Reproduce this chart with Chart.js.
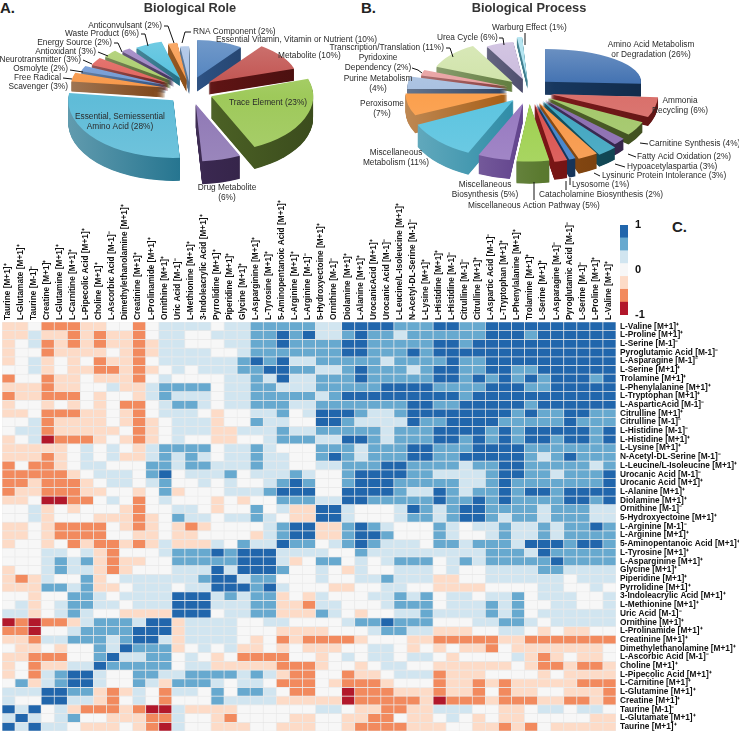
<!DOCTYPE html>
<html><head><meta charset="utf-8">
<style>
html,body{margin:0;padding:0;background:#fff;width:739px;height:733px;overflow:hidden}
canvas{position:absolute}
.tag{position:absolute;font:bold 15px "Liberation Sans",Arial,sans-serif;color:#222}
</style>
<script src="https://cdn.jsdelivr.net/npm/chart.js@4/dist/chart.umd.js"></script>
</head><body>
<div class="tag" style="left:0;top:-1px">A.</div>
<div class="tag" style="left:361px;top:-1px">B.</div>
<div class="tag" style="left:672px;top:218px">C.</div>
<canvas id="pieA" width="380" height="217" style="left:0;top:-2px"></canvas>
<canvas id="pieB" width="420" height="217" style="left:319px;top:-2px"></canvas>
<canvas id="heat" width="737" height="535" style="left:2px;top:198px"></canvas>
<canvas id="bar" width="50" height="110" style="left:620px;top:215px"></canvas>
<script>
// ---------- Pie A data ----------
const roleNames = ['Essential Vitamin, Vitamin or Nutrient','Metabolite','Trace Element','Drug Metabolite','Essential, Semiessential Amino Acid','Free Radical Scavenger','Osmolyte','Neurotransmitter','Antioxidant','Energy Source','Waste Product','Anticonvulsant','RNA Component'];
const roleValues = [10,10,23,6,28,3,2,3,3,2,6,2,2];
// ---------- Pie B data ----------
const processNames = ['Amino Acid Metabolism or Degradation','Ammonia Recycling','Carnitine Synthesis','Fatty Acid Oxidation','Hypoacetylaspartia','Lysinuric Protein Intolerance','Lysosome','Catacholamine Biosynthesis','Miscellaneous Action Pathway','Miscellaneous Biosynthesis','Miscellaneous Metabolism','Peroxisome','Purine Metabolism','Pyridoxine Dependency','Transcription/Translation','Urea Cycle','Warburg Effect'];
const processValues = [26,6,4,2,3,3,1,2,5,5,11,7,4,2,11,6,1];
// ---------- Heatmap labels ----------
const P='[M+1]\u207A', N='[M-1]\u207B';
const rowLabels = ['L-Valine '+P,'L-Proline '+P,'L-Serine '+N,'Pyroglutamic Acid '+N,'L-Asparagine '+N,'L-Serine '+P,'Trolamine '+P,'L-Phenylalanine '+P,'L-Tryptophan '+P,'L-AsparticAcid '+N,'Citrulline '+P,'Citrulline '+N,'L-Histidine '+N,'L-Histidine '+P,'L-Lysine '+P,'N-Acetyl-DL-Serine '+N,'L-Leucine/L-Isoleucine '+P,'Urocanic Acid '+N,'Urocanic Acid '+P,'L-Alanine '+P,'Diolamine '+P,'Ornithine '+N,'5-Hydroxyectoine '+P,'L-Arginine '+N,'L-Arginine '+P,'5-Aminopentanoic Acid '+P,'L-Tyrosine '+P,'L-Asparginine '+P,'Glycine '+P,'Piperidine '+P,'Pyrrolidine '+P,'3-Indoleacrylic Acid '+P,'L-Methionine '+P,'Uric Acid '+N,'Ornithine '+P,'L-Prolinamide '+P,'Creatinine '+P,'Dimethylethanolamine '+P,'L-Ascorbic Acid '+N,'Choline '+P,'L-Pipecolic Acid '+P,'L-Carnitine '+P,'L-Glutamine '+P,'Creatine '+P,'Taurine '+N,'L-Glutamate '+P,'Taurine '+P];
const colLabels = ['Taurine '+P,'L-Glutamate '+P,'Taurine '+N,'Creatine '+P,'L-Glutamine '+P,'L-Carnitine '+P,'L-Pipecolic Acid '+P,'Choline '+P,'L-Ascorbic Acid '+N,'Dimethylethanolamine '+P,'Creatinine '+P,'L-Prolinamide '+P,'Ornithine '+P,'Uric Acid '+N,'L-Methionine '+P,'3-Indoleacrylic Acid '+P,'Pyrrolidine '+P,'Piperidine '+P,'Glycine '+P,'L-Asparginine '+P,'L-Tyrosine '+P,'5-Aminopentanoic Acid '+P,'L-Arginine '+P,'L-Arginine '+N,'5-Hydroxyectoine '+P,'Ornithine '+N,'Diolamine '+P,'L-Alanine '+P,'UrocanicAcid '+P,'Urocanic Acid '+N,'L-Leucine/L-Isoleucine '+P,'N-Acetyl-DL-Serine '+N,'L-Lysine '+P,'L-Histidine '+P,'L-Histidine '+N,'Citrulline '+N,'Citrulline '+P,'L-Aspartic Acid '+N,'L-Tryptophan '+P,'L-Phenylalanine '+P,'Trolamine '+P,'L-Serine '+P,'L-Asparagine '+N,'Pyroglutamic Acid '+N,'L-Serine '+N,'L-Proline '+P,'L-Valine '+P];
// ---------- Heatmap cells: binned correlation, -3 (r=-1) .. 3 (r=1) ----------
const row00=[-1,-1,0,-2,-2,-2,-1,-1,0,0,-2,0,1,1,1,1,0,1,1,2,2,2,2,2,1,1,3,3,3,3,2,2,2,3,3,2,2,3,3,3,3,3,3,3,3,3,3];
const row01=[-1,-1,1,-1,-1,-2,-1,-2,-1,-1,-2,0,1,1,0,0,1,1,1,2,2,3,2,3,1,1,2,3,2,2,1,2,2,2,2,2,2,3,3,3,2,3,3,3,3,3,3];
const row02=[-1,0,1,-2,-1,-2,-1,-2,-1,-1,-2,-1,1,1,0,0,0,1,1,2,2,3,2,2,2,2,3,3,2,2,2,2,2,3,3,2,3,3,3,3,3,3,3,3,3,3,3];
const row03=[-1,0,0,-2,-1,-1,-1,-1,0,-1,-2,-1,1,1,1,1,0,0,1,2,2,2,2,2,2,2,3,3,2,2,2,3,2,3,3,3,3,3,3,3,3,3,3,3,3,3,3];
const row04=[-1,0,1,-1,0,-1,0,-2,-1,-1,-2,0,1,1,1,1,1,1,2,3,2,3,1,1,2,2,2,2,2,1,2,2,2,2,3,2,2,3,3,3,3,3,3,3,3,3,3];
const row05=[0,0,1,-1,0,-1,-1,-2,-2,-1,-2,-1,0,1,0,1,1,1,2,2,3,3,2,2,1,1,2,3,2,2,2,1,2,3,3,2,2,3,3,2,2,3,3,3,3,3,3];
const row06=[-2,0,0,-2,-1,-1,0,-1,-1,-1,-2,0,1,0,0,0,0,1,1,2,1,3,1,1,2,2,2,3,2,2,2,2,2,3,3,2,3,2,3,2,3,2,3,3,3,2,3];
const row07=[-1,-1,-1,-2,-1,-1,0,0,1,-1,-1,1,2,2,2,2,0,1,1,2,2,1,1,1,2,2,2,2,2,3,3,3,3,2,2,2,2,3,3,3,2,2,3,3,3,3,3];
const row08=[-2,-1,-1,-2,-2,-2,0,-1,0,0,-1,1,2,1,1,1,0,1,1,2,2,2,2,2,1,2,3,3,3,3,3,3,3,3,3,2,3,3,3,3,3,3,3,3,3,3,3];
const row09=[-1,0,0,-1,0,-1,0,-1,0,-2,-2,0,1,2,2,1,0,1,1,2,2,2,1,1,2,2,2,2,2,2,2,3,3,2,2,3,3,3,3,3,2,3,3,3,3,3,3];
const row10=[-1,-1,0,-2,-2,-2,-1,-1,0,-1,-2,0,1,1,1,0,-1,0,0,1,1,2,0,1,3,3,3,2,1,1,2,3,3,3,3,3,3,3,3,2,3,2,2,3,3,2,2];
const row11=[0,0,1,-2,-1,-1,-1,-1,0,-1,-2,-1,0,1,1,1,-1,0,0,2,1,1,0,0,3,3,2,1,1,1,1,3,2,2,3,3,3,3,2,2,2,2,2,3,2,2,2];
const row12=[0,1,1,-2,-1,-1,-1,-1,-1,0,-2,-1,0,1,1,1,-1,-1,1,1,1,2,1,1,2,2,2,2,2,1,2,2,2,3,3,3,3,2,3,2,3,3,3,3,3,2,3];
const row13=[-1,0,1,-3,-2,-2,-2,-1,0,-1,-2,-1,0,1,0,0,-1,-1,0,0,1,2,2,2,1,1,3,3,2,1,2,2,2,3,3,2,3,2,3,2,3,3,2,3,3,2,3];
const row14=[-1,-1,-1,-1,-1,0,1,0,1,0,-1,1,2,2,2,2,0,1,1,2,1,0,0,0,2,2,2,1,2,2,2,3,3,2,2,2,3,3,3,3,2,2,2,2,2,2,2];
const row15=[-1,-1,-1,-2,-1,0,1,0,1,-1,-1,1,2,1,2,1,0,1,1,2,1,1,0,0,2,3,2,1,2,2,2,3,3,2,2,3,3,3,3,3,2,1,2,3,2,2,2];
const row16=[-2,0,-2,-2,-1,0,1,1,0,0,0,2,2,1,2,2,1,1,1,2,1,1,0,0,1,1,2,2,2,3,3,2,2,2,2,1,2,2,3,3,2,2,2,2,2,1,2];
const row17=[-2,-2,-2,-2,-2,-1,0,1,1,1,0,2,3,0,1,1,1,2,0,1,1,1,2,1,0,0,2,3,3,3,3,2,2,1,1,1,1,2,3,3,2,2,1,2,2,2,3];
const row18=[-2,-2,-1,-2,-2,-2,-1,0,1,1,0,1,2,0,0,1,0,1,0,0,1,2,3,2,0,0,2,3,3,3,2,2,2,2,2,1,1,2,3,2,2,2,2,2,2,2,3];
const row19=[-2,-1,-1,-2,-2,-2,-1,-1,0,0,-1,0,2,-1,0,0,0,1,1,1,2,3,3,3,0,0,3,3,3,3,2,1,1,3,2,1,2,2,3,2,3,3,2,3,3,3,3];
const row20=[-1,-1,0,-3,-3,-2,-2,0,1,0,-2,0,1,0,0,0,-1,0,-1,0,0,2,2,2,1,1,3,3,2,2,2,2,2,3,2,2,3,2,3,2,2,2,2,3,3,2,3];
const row21=[0,0,1,-1,0,-1,0,0,0,-1,-2,0,0,1,1,0,-1,0,0,2,0,1,-1,-1,3,3,1,0,0,0,1,3,2,1,2,3,3,2,2,2,2,1,2,2,2,1,1];
const row22=[0,0,1,-1,0,0,0,-1,-1,-1,-2,-1,0,2,1,1,0,1,1,2,1,0,-1,-1,3,3,1,0,0,0,1,2,2,1,2,3,3,2,1,2,2,1,2,2,2,1,1];
const row23=[-1,-1,0,-1,-2,-2,-2,-2,0,-1,-2,-1,0,-1,-2,-1,0,0,0,0,1,2,3,3,-1,-1,2,3,2,1,0,0,0,2,1,0,1,1,2,1,1,2,1,2,2,3,2];
const row24=[-1,-1,0,-1,-2,-2,-2,-2,0,0,-1,-1,0,-1,-1,0,0,0,0,-1,1,2,3,3,-1,-1,2,3,3,2,0,0,0,2,1,0,0,1,2,1,1,2,1,2,2,2,2];
const row25=[-1,0,0,-1,0,-2,-1,-2,-2,-1,-2,-1,1,-1,-1,-1,1,0,2,1,1,3,2,2,0,1,2,3,2,1,1,1,0,2,2,1,2,2,2,1,3,3,3,2,3,3,2];
const row26=[0,0,0,1,1,0,1,-1,-2,0,0,0,1,2,2,2,3,2,3,3,3,1,1,1,1,0,0,2,1,1,1,1,1,1,1,1,1,2,2,2,1,3,2,2,2,2,2];
const row27=[0,0,0,1,2,1,2,-1,-2,-1,-1,0,0,2,2,2,2,2,3,3,3,1,-1,0,2,2,0,1,0,1,2,2,2,0,1,2,1,2,2,2,2,2,3,2,2,2,2];
const row28=[-1,0,0,1,2,1,1,-1,-2,-1,0,0,0,1,1,1,3,1,3,3,3,2,0,0,1,0,-1,1,0,0,1,1,1,0,1,0,0,1,1,1,1,2,2,1,1,1,1];
const row29=[-1,-2,-1,1,0,0,2,-1,0,1,1,1,1,1,1,2,3,3,1,2,2,0,0,0,1,0,0,1,1,2,1,1,1,-1,-1,0,0,1,1,1,1,1,1,0,1,1,1];
const row30=[-1,-1,-1,2,2,1,2,-1,-1,0,1,1,1,0,1,1,3,3,3,2,3,1,0,0,0,-1,-1,0,0,1,1,0,0,-1,-1,-1,-1,0,0,0,0,1,1,0,0,1,0];
const row31=[0,0,-1,0,0,2,2,1,0,1,1,1,1,3,3,3,1,2,1,2,2,-1,0,-1,1,0,0,0,1,1,2,1,2,0,1,1,0,1,1,2,0,1,1,1,0,0,1];
const row32=[0,1,-1,0,1,2,2,1,1,0,1,1,1,3,3,3,1,1,1,2,2,-1,-1,-2,1,1,0,0,0,1,2,2,2,0,1,1,1,2,1,2,0,0,1,1,0,0,1];
const row33=[1,1,-1,0,1,2,1,0,0,-1,-1,-1,-1,3,3,3,0,1,1,2,2,-1,-1,-1,2,1,0,-1,0,0,1,1,2,1,1,1,1,2,1,2,0,1,1,1,1,1,1];
const row34=[-3,-2,-3,-2,-2,-1,1,2,2,2,1,3,3,-1,1,1,1,1,0,0,1,1,0,0,0,0,1,2,2,3,2,2,2,0,0,0,1,1,2,2,1,0,1,1,1,1,1];
const row35=[-2,-2,-3,0,0,1,2,2,2,2,3,3,3,-1,1,1,1,1,0,0,0,-1,-1,-1,-1,0,0,0,1,2,2,1,1,-1,-1,-1,0,0,1,1,0,-1,0,-1,-1,0,0];
const row36=[-1,-1,-2,1,1,2,2,2,1,2,3,3,1,-1,1,1,1,1,0,-1,0,-2,-1,-2,-2,-2,-2,-1,0,0,0,-1,-1,-2,-2,-2,-2,-2,-1,-1,-2,-2,-2,-2,-2,-2,-2];
const row37=[0,-1,-1,0,-1,0,0,2,1,3,2,2,2,-1,0,1,0,1,-1,-1,0,-1,0,-1,-1,-1,0,0,1,1,0,-1,0,-1,0,-1,-1,-2,0,-1,-1,-1,-1,-1,-1,-1,0];
const row38=[-1,-1,-2,-2,-2,0,0,2,3,1,1,2,2,0,1,0,-1,0,-2,-2,-2,-2,0,0,-1,0,1,0,1,1,0,1,1,0,-1,0,0,0,0,1,-1,-2,-1,0,-1,-1,0];
const row39=[-1,0,-2,-1,-1,1,1,3,2,2,2,2,2,0,1,1,-1,-1,-1,-1,-1,-2,-2,-2,-1,0,0,-1,0,1,1,0,0,-1,-1,-1,-1,-1,-1,0,-1,-2,-2,-1,-2,-2,-1];
const row40=[-1,0,-2,1,2,3,3,1,0,0,2,2,1,1,2,2,2,2,1,2,1,-1,-2,-2,0,0,-2,-1,-1,0,1,1,1,-2,-1,-1,-1,0,0,0,0,-1,0,-1,-1,-1,-1];
const row41=[0,2,-1,1,2,3,3,1,0,0,2,1,-1,2,2,2,1,0,1,1,0,-2,-2,-2,0,-1,-2,-2,-2,-1,0,0,0,-2,-1,-1,-2,-1,-2,-1,-1,-1,-1,-1,-2,-2,-2];
const row42=[1,1,1,3,3,2,2,-1,-2,-1,1,0,-2,1,1,0,2,0,2,2,1,0,-2,-2,0,0,-3,-2,-2,-2,-1,-1,-1,-2,-1,-1,-2,0,-2,-1,-1,0,0,-1,-1,-1,-2];
const row43=[1,0,0,3,3,1,1,-1,-2,0,1,0,-2,0,0,0,2,1,1,1,1,-1,-1,-1,-1,-1,-3,-2,-2,-2,-2,-2,-1,-3,-2,-2,-2,-1,-2,-2,-2,-1,-1,-2,-2,-1,-2];
const row44=[3,1,3,0,1,-1,-2,-2,-2,-1,-2,-3,-3,1,-1,-1,-1,-1,0,0,0,0,0,0,1,1,0,-1,-1,-2,-2,-1,-1,1,1,1,0,0,-1,-1,0,1,1,0,1,1,0];
const row45=[1,3,1,0,1,2,0,0,-1,-1,-1,-2,-2,1,0,0,-1,-2,0,0,0,0,-1,-1,0,0,-1,-1,-2,-2,0,-1,-1,0,1,0,-1,0,-1,-1,0,0,0,0,0,-1,-1];
const row46=[3,1,3,1,1,0,-1,-1,-1,0,-1,-2,-3,1,0,0,-1,-1,-1,0,0,-1,-1,-1,0,0,-1,-2,-2,-2,-2,-1,-1,-1,0,0,-1,-1,-2,-1,-2,0,-1,-1,-1,-1,-1];
const cellBins=[row00,row01,row02,row03,row04,row05,row06,row07,row08,row09,row10,row11,row12,row13,row14,row15,row16,row17,row18,row19,row20,row21,row22,row23,row24,row25,row26,row27,row28,row29,row30,row31,row32,row33,row34,row35,row36,row37,row38,row39,row40,row41,row42,row43,row44,row45,row46];
const binColors={'-3':'#b2182b','-2':'#f28a5e','-1':'#fddbc7','0':'#f7f7f7','1':'#d1e5f0','2':'#67a9cf','3':'#2166ac'};
const scaleBins=[-3,-2,-1,0,1,2,3];
const scaleTicks=[-1,0,1];

// ---------- 3D look of the pies (styles) ----------
const styleA={
 top:['#4f81bd','#c0504d','#9ec95a','#8f78b5','#5fbcd8','#f79646','#6f98d4','#e0605a','#a8cc68','#9a7fc0','#4fbfdc','#f79646','#a6c0e4'],
 side:['#2b4f80','#5e1414','#4a5f24','#3a2850','#24748f','#7a3f10','#2b4f80','#6f1a1a','#4f6228','#3f2d58','#1f6a80','#8a4a12','#54708f'],
 radius:[75,90,102,104,105,95,90,85,82,76,75,75,72],
 squash:[.5,.5,.55,.55,.55,.5,.5,.5,.5,.5,.5,.5,.5],
 depth:[14,12,22,23,23,10,8,8,8,8,8,12,12],
 explode:[23,23,23,23,23,25,25,25,25,25,23,18,14]
};
const styleB={
 top:['#3f6fb0','#d9706b','#a3c76a','#8a6cb0','#3fa5c0','#f79646','#3f7fc8','#d9504d','#9ed04f','#9678c0','#5cc4e0','#fba04e','#a8c0e0','#e8a0a0','#cfe3a8','#c9b9dc','#a6e0ee'],
 side:['#17375e','#7a1a1a','#4f6228','#3f2d58','#14505f','#8a4a12','#17375e','#7a1515','#5b7a30','#5e3f8a','#2a8aa5','#a55a10','#2a3f5f','#8a3a3a','#5e7a3a','#4a4a6a','#3a7a8a'],
 radius:[96,108,105,102,106,108,106,106,105,104,106,102,100,90,82,75,85],
 squash:[.34,.5,.55,.6,.6,.56,.56,.56,.55,.55,.55,.5,.5,.5,.5,.5,.52],
 depth:[13,9,10,11,12,15,18,18,22,19,22,18,5,4,10,14,8],
 explode:[22,22,22,22,22,22,22,22,22,22,22,22,22,22,22,20,16]
};
const LABEL_FONT='8.3px "Liberation Sans",Arial,sans-serif';
// text placement: lines, page x, page y, alignment
const placeA=[
 [['Anticonvulsant (2%)'],162,26,'right'],[['Waste Product (6%)'],139,34,'right'],[['Energy Source (2%)'],112,43,'right'],
 [['Antioxidant (3%)'],96,52,'right'],[['Neurotransmitter (3%)'],81,60,'right'],[['Osmolyte (2%)'],68,69,'right'],
 [['Free Radical'],61,78,'right'],[['Scavenger (3%)'],68,87,'right'],[['RNA Component (2%)'],193,32,'left'],
 [['Essential Vitamin, Vitamin or Nutrient (10%)'],216,40,'left'],[['Metabolite (10%)'],278,56,'left'],
 [['Trace Element (23%)'],268,103,'center'],[['Essential, Semiessential','Amino Acid (28%)'],120,117,'center'],
 [['Drug Metabolite','(6%)'],227,188,'center']];
const leadA=[[[164,26],[168,26],[174,43]],[[141,34],[145,34],[148,46]],[[114,43],[118,43],[122,52]],[[98,52],[108,56]],[[83,60],[92,64]],[[70,70],[83,72]],[[63,78],[72,79]],[[191,32],[185,32],[182,43]]];
const placeB=[
 [['Warburg Effect (1%)'],492,28,'left'],[['Urea Cycle (6%)'],437,38,'left'],[['Transcription/Translation (11%)'],444,48,'right'],
 [['Pyridoxine','Dependency (2%)'],378,58,'center'],[['Purine Metabolism','(4%)'],378,79,'center'],[['Peroxisome','(7%)'],382,104,'center'],
 [['Miscellaneous','Metabolism (11%)'],396,153,'center'],[['Miscellaneous','Biosynthesis (5%)'],485,185,'center'],
 [['Miscellaneous Action Pathway (5%)'],468,206,'left'],[['Catacholamine Biosynthesis (2%)'],539,195,'left'],[['Lysosome (1%)'],572,185,'left'],
 [['Lysinuric Protein Intolerance (3%)'],602,176,'left'],[['Hypoacetylaspartia (3%)'],627,167,'left'],[['Fatty Acid Oxidation (2%)'],637,157,'left'],
 [['Carnitine Synthesis (4%)'],649,144,'left'],[['Ammonia','Recycling (6%)'],680,101,'center'],[['Amino Acid Metabolism','or Degradation (26%)'],651,45,'center']];
const leadB=[[[525,33],[525,45]],[[499,38],[503,38],[504,45]],[[446,48],[450,48],[453,57]],[[412,68],[418,70],[422,73]],[[534,182],[534,200]],[[566,181],[566,190]],[[570,185],[570,178]],[[600,176],[594,173]],[[625,167],[615,164]],[[636,157],[628,154]],[[648,144],[640,143]]];

function mix(hex,target,f){
 const n=parseInt(hex.slice(1),16),c=[n>>16&255,n>>8&255,n&255];
 return 'rgb('+c.map(v=>Math.round(v+(target-v)*f)).join(',')+')';
}
function topFills(canvas,colors){
 const ctx=canvas.getContext('2d');
 return colors.map(col=>{
  const g=ctx.createLinearGradient(0,-10,0,210);
  g.addColorStop(0,mix(col,255,.22));g.addColorStop(.5,col);g.addColorStop(1,mix(col,255,.1));
  return g;});
}
function pie3d(style,place,lead,ox,oy){
 return {id:'pie3d',
  afterDatasetsUpdate(chart){
   const a=chart.chartArea,cx=(a.left+a.right)/2,cy=(a.top+a.bottom)/2;
   chart.getDatasetMeta(0).data.forEach((el,i)=>{
    const mid=(el.startAngle+el.endAngle)/2,e=style.explode[i];
    el.x=cx+e*Math.cos(mid); el.y=cy+e*.6*Math.sin(mid);
    el.outerRadius=style.radius[i]; el.innerRadius=0;
    const s=style.squash[i];
    el.draw=function(ctx){ctx.save();ctx.translate(el.x,el.y);ctx.scale(1,s);ctx.translate(-el.x,-el.y);
      Object.getPrototypeOf(el).draw.call(el,ctx);ctx.restore();};
   });
  },
  beforeDatasetsDraw(chart){
   const ctx=chart.ctx,els=chart.getDatasetMeta(0).data;
   const order=els.map((_,i)=>i).sort((p,q)=>Math.sin((els[p].startAngle+els[p].endAngle)/2)-Math.sin((els[q].startAngle+els[q].endAngle)/2));
   order.forEach(i=>{
    const el=els[i],r=style.radius[i];
    const g=ctx.createLinearGradient(el.x-r,0,el.x+r,0);
    g.addColorStop(0,mix(style.side[i],255,.28));g.addColorStop(.55,style.side[i]);g.addColorStop(1,mix(style.side[i],0,.2));
    ctx.fillStyle=g;
    for(let d=style.depth[i];d>=1;d-=.5){
     ctx.save();ctx.translate(0,d);ctx.translate(el.x,el.y);ctx.scale(1,style.squash[i]);
     ctx.beginPath();ctx.moveTo(0,0);ctx.arc(0,0,r,el.startAngle,el.endAngle);ctx.closePath();
     ctx.setTransform(1,0,0,1,0,0);
     ctx.fill();ctx.restore();
    }
   });
  },
  afterDraw(chart){
   const ctx=chart.ctx;ctx.save();ctx.translate(-ox,-oy);
   ctx.font=LABEL_FONT;ctx.fillStyle='#2a2a2a';ctx.textBaseline='middle';
   place.forEach(([lines,x,y,al])=>{ctx.textAlign=al;lines.forEach((t,k)=>ctx.fillText(t,x,y+k*10));});
   ctx.strokeStyle='#111';ctx.lineWidth=1;
   lead.forEach(pts=>{ctx.beginPath();pts.forEach((p,k)=>k?ctx.lineTo(p[0],p[1]):ctx.moveTo(p[0],p[1]));ctx.stroke();});
   ctx.restore();
  }};
}
function pieConfig(canvas,names,values,style,title,place,lead,ox,oy,circ){
 return {type:'pie',
  data:{labels:names,datasets:[{data:values,backgroundColor:topFills(canvas,style.top),borderWidth:0}]},
  options:{responsive:false,animation:false,circumference:circ,
   layout:{padding:{top:0,bottom:53}},
   plugins:{legend:{display:false},tooltip:{enabled:false},
    title:{display:true,text:title,color:'#333',font:{family:'"Liberation Sans",Arial,sans-serif',size:12.8,weight:'bold'},padding:{top:3,bottom:3}}}},
  plugins:[pie3d(style,place,lead,ox,oy)]};
}
const cA=document.getElementById('pieA'),cB=document.getElementById('pieB');
new Chart(cA,pieConfig(cA,roleNames,roleValues,styleA,'Biological Role',placeA,leadA,0,-2,360));
new Chart(cB,pieConfig(cB,processNames,processValues,styleB,'Biological Process',placeB,leadB,319,-2,356.4));

// ---------- Heatmap ----------
const tickFont={family:'"Liberation Sans",Arial,sans-serif',size:8.3,weight:'bold'};
new Chart(document.getElementById('heat'),{type:'bar',
 data:{labels:colLabels,datasets:rowLabels.map((name,r)=>({label:name,
   data:colLabels.map(()=>[r,r+1]),
   backgroundColor:cellBins[r].map(b=>binColors[b]),
   borderColor:'rgba(228,228,228,.65)',borderWidth:.7,borderSkipped:false,
   barPercentage:1,categoryPercentage:1,grouped:false}))},
 options:{responsive:false,animation:false,
  layout:{padding:{bottom:2}},
  plugins:{legend:{display:false},tooltip:{enabled:false}},
  scales:{
   x:{position:'top',grid:{display:false,drawTicks:false},border:{display:false},
      afterFit(s){s.height=124;s.paddingLeft=0;s.paddingRight=0;},
      ticks:{autoSkip:false,minRotation:90,maxRotation:90,padding:2,labelOffset:9,color:'#111',font:tickFont}},
   y:{position:'right',reverse:true,min:0,max:47,grid:{display:false,drawTicks:false},border:{display:false},
      afterFit(s){s.width=123;s.paddingTop=0;s.paddingBottom=0;},
      afterBuildTicks(s){s.ticks=rowLabels.map((_,i)=>({value:i+.5}));},
      ticks:{autoSkip:false,padding:4,color:'#111',font:tickFont,callback:v=>rowLabels[Math.floor(v)]}}
  }}});

// ---------- Colour key ----------
new Chart(document.getElementById('bar'),{type:'bar',
 data:{labels:['r'],datasets:scaleBins.map((b,i)=>({data:[[-1+i*2/7,-1+(i+1)*2/7]],backgroundColor:binColors[b],borderWidth:0,barPercentage:1,categoryPercentage:1,grouped:false}))},
 options:{responsive:false,animation:false,layout:{padding:{top:10,bottom:10}},
  plugins:{legend:{display:false},tooltip:{enabled:false}},
  scales:{x:{display:false},
   y:{position:'right',min:-1,max:1,grid:{display:false,drawTicks:false},border:{display:false},
      afterFit(s){s.width=42;s.paddingTop=0;s.paddingBottom=0;},
      afterBuildTicks(s){s.ticks=scaleTicks.map(v=>({value:v}));},
      ticks:{padding:7,color:'#111',font:{family:'"Liberation Sans",Arial,sans-serif',size:11,weight:'bold'}}}}}});
</script>
</body></html>
